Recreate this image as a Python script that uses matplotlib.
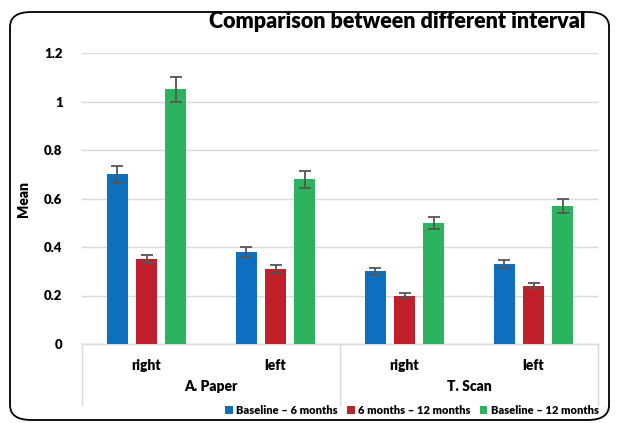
import matplotlib.pyplot as plt
import numpy as np
from matplotlib.patches import FancyBboxPatch

plt.rcParams['font.family'] = ['Lato', 'DejaVu Sans']

groups = ['A. Paper', 'T. Scan']
sides = ['right', 'left', 'right', 'left']
series = ['Baseline – 6 months', '6 months – 12 months', 'Baseline – 12 months']
values = [
    [0.70, 0.38, 0.30, 0.33],
    [0.35, 0.31, 0.20, 0.24],
    [1.05, 0.68, 0.50, 0.57],
]
errors = [
    [0.035, 0.02, 0.015, 0.015],
    [0.018, 0.016, 0.01, 0.01],
    [0.05, 0.035, 0.025, 0.028],
]
colors = ['#0F6FBF', '#C0202A', '#2DB35D']

fig = plt.figure(figsize=(6.17, 4.23), dpi=100)
fig.patch.set_facecolor('white')
box = FancyBboxPatch((10/617, 3/423), 599/617, 408/423,
                     boxstyle='round,pad=0,rounding_size=0.035',
                     transform=fig.transFigure, fill=False, ec='black', lw=1.3)
fig.patches.append(box)

ax = fig.add_axes([82/617, 1-344/423, 516/617, 291/423])
x = np.arange(len(sides))
w = 0.17
gap = 0.225
for i, (vals, errs, c, lab) in enumerate(zip(values, errors, colors, series)):
    ax.bar(x + (i-1)*gap, vals, w, color=c, label=lab, zorder=3,
           yerr=errs, error_kw=dict(ecolor='#555555', elinewidth=1.3, capsize=4, capthick=1.3))

ax.set_xlim(-0.5, 3.5)
ax.set_ylim(0, 1.2)
ax.set_yticks(np.arange(0, 1.21, 0.2))
ax.set_yticklabels(['0', '0.2', '0.4', '0.6', '0.8', '1', '1.2'], fontweight='heavy', fontsize=9.5)
ax.yaxis.grid(True, color='#D9D9D9', lw=1, zorder=0)
ax.tick_params(axis='y', length=0, pad=14)
ax.set_xticks([])
for s in ['top', 'right', 'left']:
    ax.spines[s].set_visible(False)
ax.spines['bottom'].set_color('#D9D9D9')
ax.set_ylabel('Mean', fontweight='heavy', fontsize=10, labelpad=10)

# multilevel category axis
for xv in [-0.5, 1.5, 3.5]:
    ax.plot([xv, xv], [0, -0.21], transform=ax.get_xaxis_transform(), clip_on=False,
            color='#D9D9D9', lw=1)
ax.plot([-0.5, 3.5], [0, 0], color='#D9D9D9', lw=1, transform=ax.get_xaxis_transform(), clip_on=False)
for xi, s in zip(x, sides):
    ax.text(xi, -0.075, s, transform=ax.get_xaxis_transform(), ha='center', va='center',
            fontweight='heavy', fontsize=10)
for gi, g in enumerate(groups):
    ax.text(0.5 + 2*gi, -0.145, g, transform=ax.get_xaxis_transform(), ha='center', va='center',
            fontweight='heavy', fontsize=10)

fig.text(397/617, 1-21/423, 'Comparison between different interval', ha='center', va='center',
         fontweight='heavy', fontsize=15.5)

fig.legend(loc='center', bbox_to_anchor=(412/617, 1-410/423), ncol=3, frameon=False,
           prop=dict(weight='heavy', size=8), handlelength=0.7, handleheight=0.7,
           handletextpad=0.3, columnspacing=0.8)

fig.savefig('out.png', dpi=100)
